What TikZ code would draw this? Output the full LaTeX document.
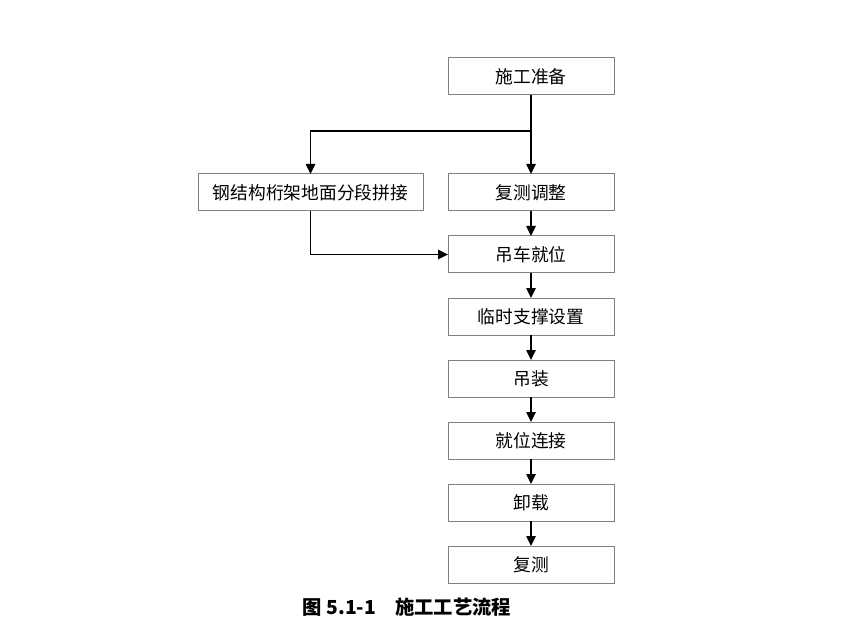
\documentclass[tikz,border=0pt]{standalone}
\usepackage{fontspec}
\setmainfont{Noto Sans CJK SC}
\usepackage{tikz}
\usetikzlibrary{positioning, arrows.meta}
\tikzset{
    block/.style={
        draw=gray, line width=0.75pt,
        minimum width = 124.5pt,
        minimum height = 27.75pt,
        align = center,
        inner sep = 0pt, outer sep = 0pt,
        font = \fontsize{13.3pt}{15pt}\selectfont
    },
    every node/.style = {node distance=18.75pt},
    line/.style = {-{Triangle[length=7.5pt,width=7pt]}, line width=1.1pt}
}
\begin{document}
\begin{tikzpicture}[x=0.75pt,y=-0.75pt]
    \useasboundingbox (0,0) rectangle (848,634);

    % Blocks
    \node[block] (prep) at (531,76.5) {施工准备};
    \node[block, below = 59.25pt of prep] (check) {复测调整};
    \node[block, left = of check, minimum width=168.75pt] (ground) {钢结构桁架地面分段拼接};
    \node[block, below = of check] (crane) {吊车就位};
    \node[block, below = of crane] (support) {临时支撑设置};
    \node[block, below = of support] (hoist) {吊装};
    \node[block, below = of hoist] (connect) {就位连接};
    \node[block, below = of connect] (unload) {卸载};
    \node[block, below = of unload] (recheck) {复测};

    % Caption
    \node[font=\fontsize{14.5pt}{16pt}\selectfont\bfseries] (caption) at (407,607) {图 5.1-1\quad 施工工艺流程};

    % Lines
    \coordinate (split) at ([yshift=-27pt]prep.south);
    \draw[line] (prep) -- (check);
    \draw[line] (split) -| (ground.north);
    \draw[line] (ground.south) |- (crane.west);
    \draw[line] (check) -- (crane);
    \draw[line] (crane) -- (support);
    \draw[line] (support) -- (hoist);
    \draw[line] (hoist) -- (connect);
    \draw[line] (connect) -- (unload);
    \draw[line] (unload) -- (recheck);

\end{tikzpicture}
\end{document}
